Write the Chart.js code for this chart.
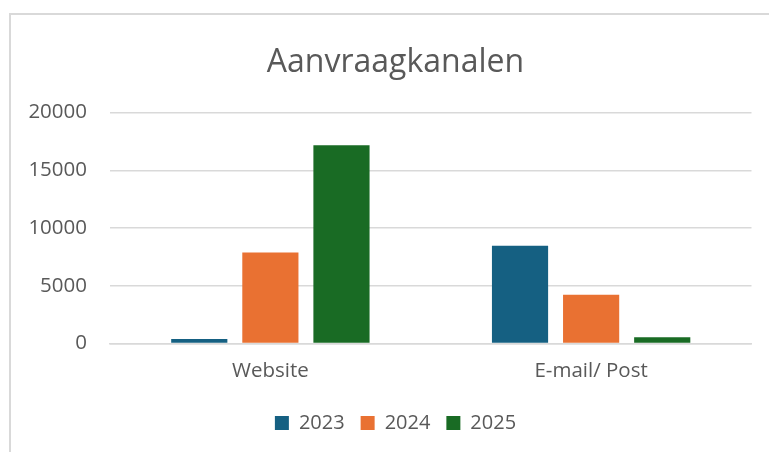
<!DOCTYPE html>
<html>
<head>
<meta charset="utf-8">
<script src="https://cdn.jsdelivr.net/npm/chart.js@4"></script>
<style>
    html, body { margin: 0; padding: 0; background: #ffffff; overflow: hidden; }
    #wrap { position: relative; width: 769px; height: 452px; overflow: hidden; }
    #frame { position: absolute; left: 9px; top: 13px; right: -20px; bottom: -20px; border: 2px solid #d9d9d9; }
    #aanvraagChart { position: absolute; left: 0; top: 0; }
</style>
</head>
<body>
<div id="wrap">
    <div id="frame"></div>
    <canvas id="aanvraagChart" width="769" height="452"></canvas>
</div>
<script>
// Aanvraagkanalen per jaar

const categories = ['Website', 'E-mail/ Post'];
const years = ['2023', '2024', '2025'];
const values2023 = [400, 8460];
const values2024 = [7870, 4220];
const values2025 = [17170, 550];
const yTicks = [0, 5000, 10000, 15000, 20000];

const textColor = '#595959';
const gridColor = '#d9d9d9';

document.addEventListener('DOMContentLoaded', function() {
    createAanvraagChart();
});

// y labels stick out past the layout padding, so let the axis clip box start at 0
const widenYLabelArea = {
    id: 'widenYLabelArea',
    afterLayout: function(chart) {
        chart.scales.y.left = 0;
    }
};

function createAanvraagChart() {
    const ctx = document.getElementById('aanvraagChart');
    if (!ctx) return;
    new Chart(ctx, {
        type: 'bar',
        data: {
            labels: categories,
            datasets: [
                { label: years[0], data: values2023, backgroundColor: '#156082' },
                { label: years[1], data: values2024, backgroundColor: '#E97132' },
                { label: years[2], data: values2025, backgroundColor: '#196B24' }
            ]
        },
        options: {
            responsive: false,
            animation: false,
            devicePixelRatio: 1,
            layout: {
                padding: { left: 39.5, right: 17.5, top: 0, bottom: 9 }
            },
            datasets: {
                bar: { barPercentage: 0.79, categoryPercentage: 0.665 }
            },
            plugins: {
                title: {
                    display: true,
                    text: 'Aanvraagkanalen',
                    color: textColor,
                    font: { family: 'Open Sans', size: 32, weight: 'normal' },
                    padding: { top: 44, bottom: 30.1 }
                },
                legend: {
                    position: 'bottom',
                    labels: {
                        color: textColor,
                        font: { family: 'Open Sans', size: 20 },
                        boxWidth: 14,
                        boxHeight: 14,
                        padding: 16
                    }
                },
                tooltip: { enabled: false }
            },
            scales: {
                x: {
                    grid: { display: false, drawTicks: false },
                    border: { display: true, color: gridColor, width: 1.5 },
                    ticks: {
                        color: textColor,
                        font: { family: 'Open Sans', size: 20.5 },
                        padding: 15.5
                    },
                    afterFit: function(scale) { scale.height = 53.5; }
                },
                y: {
                    min: yTicks[0],
                    max: yTicks[yTicks.length - 1],
                    grid: { color: gridColor, lineWidth: 1.5, drawTicks: false },
                    border: { display: false },
                    ticks: {
                        stepSize: yTicks[1] - yTicks[0],
                        color: textColor,
                        font: { family: 'Open Sans', size: 20.5 },
                        padding: 23,
                        callback: function(v) { return String(v); }
                    },
                    afterFit: function(scale) { scale.width = 70.5; }
                }
            }
        },
        plugins: [widenYLabelArea]
    });
}
</script>
</body>
</html>
